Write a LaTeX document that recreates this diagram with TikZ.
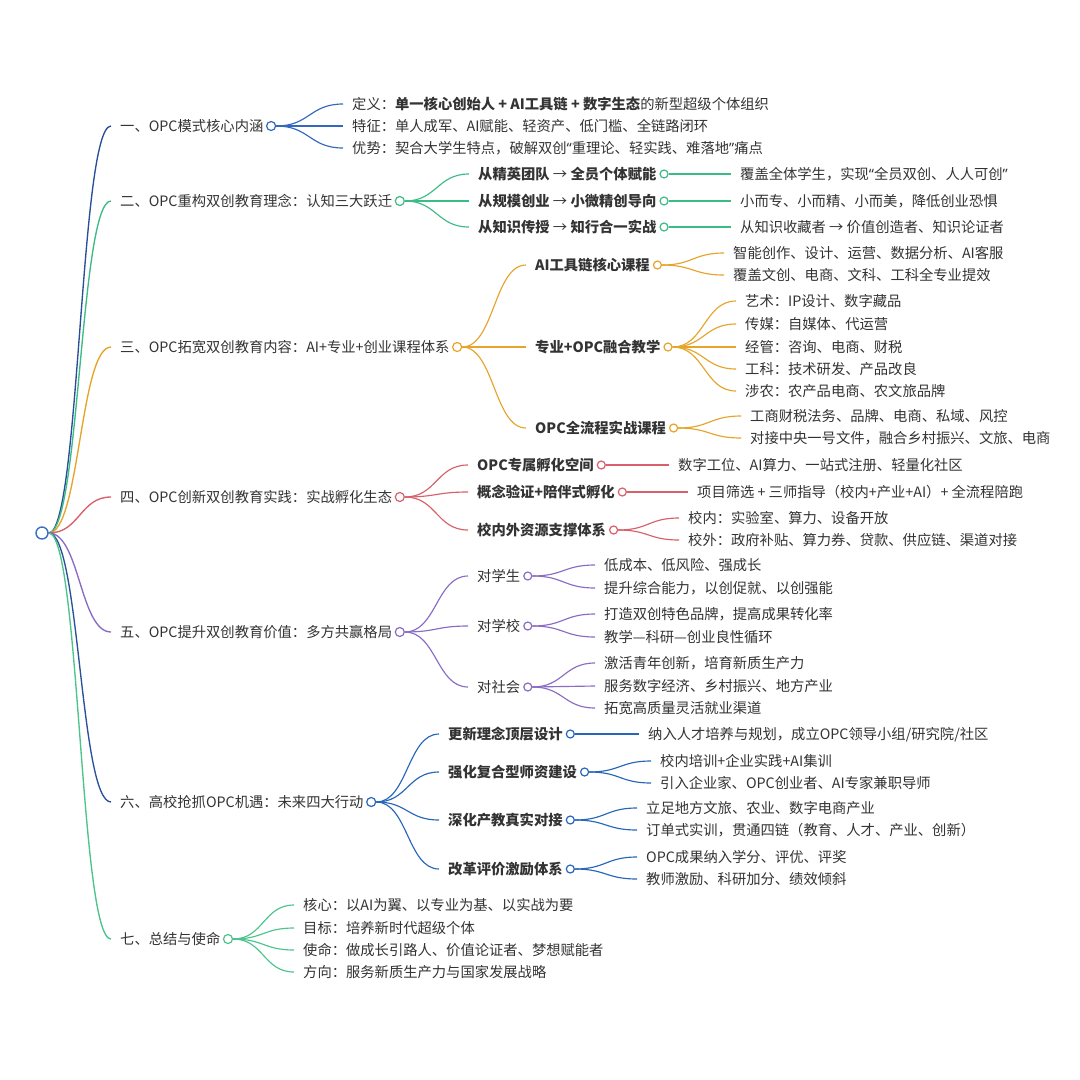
\documentclass[tikz,border=0pt]{standalone}
\usepackage{fontspec}
\setmainfont{Noto Sans CJK SC}
\newfontfamily\qf{Noto Sans}
\usetikzlibrary{calc}
\pgfdeclarelayer{bg}\pgfsetlayers{bg,main}
\definecolor{ink}{HTML}{333333}
\definecolor{cR}{HTML}{3A6FC4}
\definecolor{cA}{HTML}{2A4F98}
\definecolor{cAc}{HTML}{3468BE}
\definecolor{cB}{HTML}{3DBB86}
\definecolor{cC}{HTML}{E6A52A}
\definecolor{cD}{HTML}{D9606A}
\definecolor{cE}{HTML}{8A6CC4}
\definecolor{cF}{HTML}{2A5299}
\definecolor{cFc}{HTML}{2866BA}
\definecolor{cG}{HTML}{4CC48C}
\tikzset{
 txt/.style={anchor=west, inner xsep=9pt, inner ysep=0pt, text height=11pt, text depth=1pt, text=ink, font=\fontsize{14.3}{16}\selectfont},
 btxt/.style={txt, font=\fontsize{14.3}{16}\selectfont\bfseries},
 dot/.style={circle, draw=#1, fill=white, line width=1.2pt, minimum size=9pt, inner sep=0pt},
 sdot/.style={dot=#1, minimum size=8pt},
 ln/.style={draw=#1, line width=1.15pt},
 mm/.style={to path={let \p1=(\tikztostart), \p2=(\tikztotarget) in .. controls ({0.5*\x1+0.5*\x2},\y1) and ({0.5*\x1+0.5*\x2},\y2) .. (\tikztotarget)}}
}
\newcommand\tx[4]{\node[txt] (#1) at ({#2-9},#3) {#4};}
\newcommand\bx[4]{\node[btxt] (#1) at ({#2-9},#3) {#4};}
\newcommand\dt[3]{\node[dot=#3] (#1) at ([xshift=-1.5pt]#2.east) {};}
\newcommand\sdt[3]{\node[sdot=#3] (#1) at ([xshift=-1.5pt]#2.east) {};}
\newcommand\myar{{\mdseries →}}
\newcommand\myql{{\qf “}}
\newcommand\myqr{{\qf ”}}
\begin{document}
\begin{tikzpicture}[x=1pt,y=-1pt]
\begin{pgfonlayer}{bg}
\fill[white] (0,0) rectangle (1080,1080);
\end{pgfonlayer}
\useasboundingbox (0,0) rectangle (1080,1080);
% root
\node[dot=cR, minimum size=12pt, line width=1.4pt] (R) at (42,533) {};
% level 1
\tx{t1}{120}{126}{一、OPC模式核心内涵}
\tx{t2}{120}{201}{二、OPC重构双创教育理念：认知三大跃迁}
\tx{t3}{120}{347}{三、OPC拓宽双创教育内容：AI+专业+创业课程体系}
\tx{t4}{120}{497}{四、OPC创新双创教育实践：实战孵化生态}
\tx{t5}{120}{632}{五、OPC提升双创教育价值：多方共赢格局}
\tx{t6}{120}{802}{六、高校抢抓OPC机遇：未来四大行动}
\tx{t7}{120}{939}{七、总结与使命}
\dt{c1}{t1}{cAc}\dt{c2}{t2}{cB}\dt{c3}{t3}{cC}\dt{c4}{t4}{cD}
\dt{c5}{t5}{cE}\dt{c6}{t6}{cFc}\dt{c7}{t7}{cG}
% branch 1
\tx{a1}{352}{104}{定义：\textbf{单一核心创始人 + AI工具链 + 数字生态}的新型超级个体组织}
\tx{a2}{352}{126}{特征：单人成军、AI赋能、轻资产、低门槛、全链路闭环}
\tx{a3}{352}{148}{优势：契合大学生特点，破解双创\myql 重理论、轻实践、难落地\myqr 痛点}
% branch 2
\bx{b1}{478}{174}{从精英团队 \myar{} 全员个体赋能}
\bx{b2}{478}{201}{从规模创业 \myar{} 小微精创导向}
\bx{b3}{478}{227}{从知识传授 \myar{} 知行合一实战}
\sdt{cb1}{b1}{cB}\sdt{cb2}{b2}{cB}\sdt{cb3}{b3}{cB}
\tx{b1x}{740}{174}{覆盖全体学生，实现\myql 全员双创、人人可创\myqr}
\tx{b2x}{740}{201}{小而专、小而精、小而美，降低创业恐惧}
\tx{b3x}{740}{227}{从知识收藏者 → 价值创造者、知识论证者}
% branch 3
\bx{d1}{535}{265}{AI工具链核心课程}
\bx{d2}{535}{347}{专业+OPC融合教学}
\bx{d3}{535}{428}{OPC全流程实战课程}
\sdt{cd1}{d1}{cC}\sdt{cd2}{d2}{cC}\sdt{cd3}{d3}{cC}
\tx{d11}{733}{253}{智能创作、设计、运营、数据分析、AI客服}
\tx{d12}{733}{275}{覆盖文创、电商、文科、工科全专业提效}
\tx{d21}{745}{301}{艺术：IP设计、数字藏品}
\tx{d22}{745}{324}{传媒：自媒体、代运营}
\tx{d23}{745}{347}{经管：咨询、电商、财税}
\tx{d24}{745}{369}{工科：技术研发、产品改良}
\tx{d25}{745}{391}{涉农：农产品电商、农文旅品牌}
\tx{d31}{750}{416}{工商财税法务、品牌、电商、私域、风控}
\tx{d32}{750}{438}{对接中央一号文件，融合乡村振兴、文旅、电商}
% branch 4
\bx{e1}{477}{465}{OPC专属孵化空间}
\bx{e2}{477}{492}{概念验证+陪伴式孵化}
\bx{e3}{477}{530}{校内外资源支撑体系}
\sdt{ce1}{e1}{cD}\sdt{ce2}{e2}{cD}\sdt{ce3}{e3}{cD}
\tx{e1x}{678}{465}{数字工位、AI算力、一站式注册、轻量化社区}
\tx{e2x}{697}{492}{项目筛选 + 三师指导（校内+产业+AI）+ 全流程陪跑}
\tx{e31}{688}{518}{校内：实验室、算力、设备开放}
\tx{e32}{688}{540}{校外：政府补贴、算力券、贷款、供应链、渠道对接}
% branch 5
\tx{f1}{477}{576}{对学生}
\tx{f2}{477}{626}{对学校}
\tx{f3}{477}{687}{对社会}
\sdt{cf1}{f1}{cE}\sdt{cf2}{f2}{cE}\sdt{cf3}{f3}{cE}
\tx{f11}{604}{565}{低成本、低风险、强成长}
\tx{f12}{604}{588}{提升综合能力，以创促就、以创强能}
\tx{f21}{604}{614}{打造双创特色品牌，提高成果转化率}
\tx{f22}{604}{637}{教学—科研—创业良性循环}
\tx{f31}{604}{663}{激活青年创新，培育新质生产力}
\tx{f32}{604}{686}{服务数字经济、乡村振兴、地方产业}
\tx{f33}{604}{708}{拓宽高质量灵活就业渠道}
% branch 6
\bx{g1}{448}{734}{更新理念顶层设计}
\bx{g2}{448}{772}{强化复合型师资建设}
\bx{g3}{448}{820}{深化产教真实对接}
\bx{g4}{448}{869}{改革评价激励体系}
\sdt{cg1}{g1}{cFc}\sdt{cg2}{g2}{cFc}\sdt{cg3}{g3}{cFc}\sdt{cg4}{g4}{cFc}
\tx{g1x}{648}{734}{纳入人才培养与规划，成立OPC领导小组/研究院/社区}
\tx{g21}{660}{761}{校内培训+企业实践+AI集训}
\tx{g22}{660}{783}{引入企业家、OPC创业者、AI专家兼职导师}
\tx{g31}{646}{808}{立足地方文旅、农业、数字电商产业}
\tx{g32}{646}{830}{订单式实训，贯通四链（教育、人才、产业、创新）}
\tx{g41}{646}{857}{OPC成果纳入学分、评优、评奖}
\tx{g42}{646}{879}{教师激励、科研加分、绩效倾斜}
% branch 7
\tx{h1}{303}{905}{核心：以AI为翼、以专业为基、以实战为要}
\tx{h2}{303}{928}{目标：培养新时代超级个体}
\tx{h3}{303}{950}{使命：做成长引路人、价值论证者、梦想赋能者}
\tx{h4}{303}{972}{方向：服务新质生产力与国家发展战略}
% connectors
\begin{pgfonlayer}{bg}
\draw[ln=cA, line width=1.35pt] (R.east) to[mm] (t1.west);
\draw[ln=cB, line width=1.35pt] (R.east) to[mm] (t2.west);
\draw[ln=cC, line width=1.35pt] (R.east) to[mm] (t3.west);
\draw[ln=cD, line width=1.35pt] (R.east) to[mm] (t4.west);
\draw[ln=cE, line width=1.35pt] (R.east) to[mm] (t5.west);
\draw[ln=cF, line width=1.35pt] (R.east) to[mm] (t6.west);
\draw[ln=cG, line width=1.35pt] (R.east) to[mm] (t7.west);
\foreach \k in {a1,a2,a3} \draw[ln=cAc] (c1.east) to[mm] (\k.west);
\foreach \k in {b1,b2,b3} \draw[ln=cB] (c2.east) to[mm] (\k.west);
\draw[ln=cB] (cb1.east) -- (b1x.west);
\draw[ln=cB] (cb2.east) -- (b2x.west);
\draw[ln=cB] (cb3.east) -- (b3x.west);
\foreach \k in {d1,d2,d3} \draw[ln=cC] (c3.east) to[mm] (\k.west);
\foreach \k in {d11,d12} \draw[ln=cC] (cd1.east) to[mm] (\k.west);
\foreach \k in {d21,d22,d23,d24,d25} \draw[ln=cC] (cd2.east) to[mm] (\k.west);
\foreach \k in {d31,d32} \draw[ln=cC] (cd3.east) to[mm] (\k.west);
\foreach \k in {e1,e2,e3} \draw[ln=cD] (c4.east) to[mm] (\k.west);
\draw[ln=cD] (ce1.east) -- (e1x.west);
\draw[ln=cD] (ce2.east) -- (e2x.west);
\foreach \k in {e31,e32} \draw[ln=cD] (ce3.east) to[mm] (\k.west);
\foreach \k in {f1,f2,f3} \draw[ln=cE] (c5.east) to[mm] (\k.west);
\foreach \k in {f11,f12} \draw[ln=cE] (cf1.east) to[mm] (\k.west);
\foreach \k in {f21,f22} \draw[ln=cE] (cf2.east) to[mm] (\k.west);
\foreach \k in {f31,f32,f33} \draw[ln=cE] (cf3.east) to[mm] (\k.west);
\foreach \k in {g1,g2,g3,g4} \draw[ln=cFc] (c6.east) to[mm] (\k.west);
\draw[ln=cFc] (cg1.east) -- (g1x.west);
\foreach \k in {g21,g22} \draw[ln=cFc] (cg2.east) to[mm] (\k.west);
\foreach \k in {g31,g32} \draw[ln=cFc] (cg3.east) to[mm] (\k.west);
\foreach \k in {g41,g42} \draw[ln=cFc] (cg4.east) to[mm] (\k.west);
\foreach \k in {h1,h2,h3,h4} \draw[ln=cG] (c7.east) to[mm] (\k.west);
\end{pgfonlayer}
\end{tikzpicture}
\end{document}
